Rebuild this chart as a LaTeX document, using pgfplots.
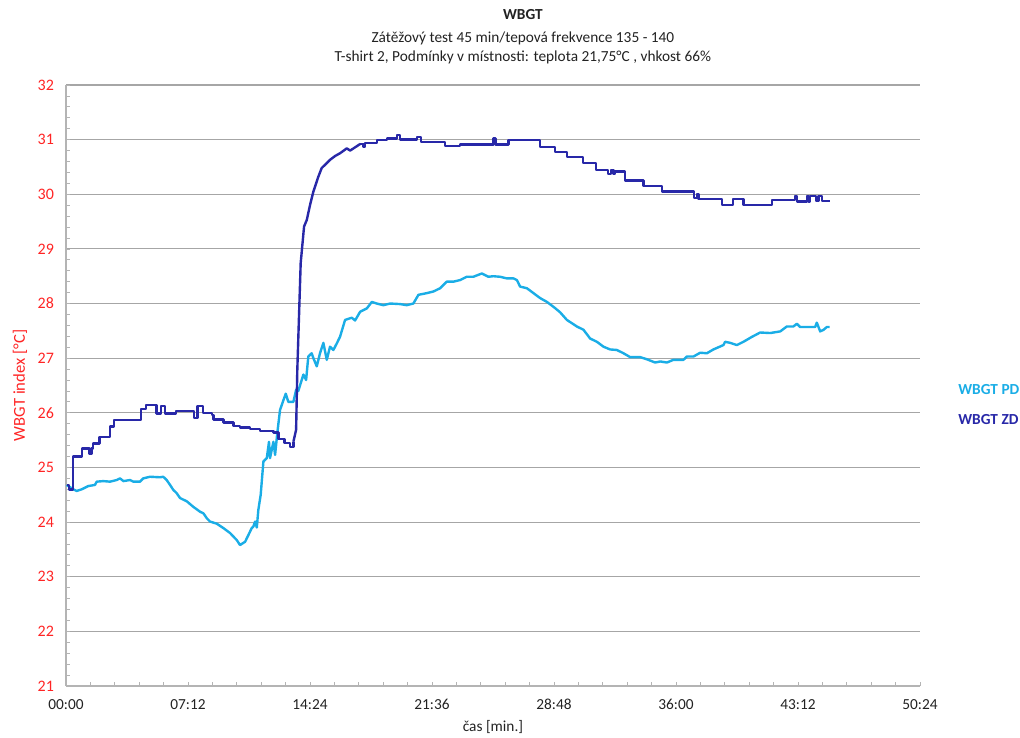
\documentclass[border=0pt]{standalone}
\usepackage{fontspec}
\setmainfont{Carlito}
\usepackage{pgfplots}
\pgfplotsset{compat=1.18}
\definecolor{pd}{HTML}{1AADE6}
\definecolor{zd}{HTML}{2828A8}
\definecolor{redt}{HTML}{FF2424}
\definecolor{gridc}{HTML}{A6A6A6}
\definecolor{axc}{HTML}{B4B4B4}
\definecolor{txt}{HTML}{222222}
\begin{document}
\fontsize{11.5}{13.8}\selectfont
\begin{tikzpicture}
\path[use as bounding box] (0,0) rectangle (765pt,553.5pt);
\begin{axis}[
  at={(49.5pt,39pt)}, anchor=south west,
  scale only axis, width=640.5pt, height=450.75pt,
  xmin=0, xmax=50.4, ymin=21, ymax=32,
  axis lines=left, axis line style={-, draw=axc, line width=0.8pt},
  tick align=inside,
  xtick={0,7.2,14.4,21.6,28.8,36,43.2,50.4},
  xticklabels={00:00,07:12,14:24,21:36,28:48,36:00,43:12,50:24},
  minor x tick num=4,
  ytick={21,22,23,24,25,26,27,28,29,30,31,32},
  minor y tick num=4,
  ymajorgrids, grid style={gridc, line width=0.8pt},
  major tick length=3pt, minor tick length=3pt,
  tick style={axc, line width=0.6pt},
  yticklabel style={text=redt, xshift=-5pt, font=\fontsize{12}{14}\selectfont},
  xticklabel style={text=txt, yshift=-6pt},
  /pgf/number format/assume math mode=true,
  clip=false,
]
\addplot[pd, line width=1.8pt, line join=round] coordinates {
(0.04,24.68)(0.43,24.6)(0.63,24.57)(0.93,24.6)(1.32,24.66)(1.71,24.68)(1.81,24.74)
(2.20,24.75)(2.60,24.74)(2.99,24.77)(3.19,24.8)(3.39,24.75)(3.78,24.77)(3.97,24.74)
(4.37,24.74)(4.56,24.8)(4.96,24.83)(5.55,24.82)(5.74,24.83)(5.94,24.77)(6.14,24.68)
(6.33,24.59)(6.53,24.53)(6.73,24.44)(7.13,24.38)(7.51,24.28)(7.91,24.19)(8.11,24.16)
(8.31,24.07)(8.50,24.01)(8.90,23.97)(9.29,23.89)(9.68,23.8)(10.08,23.67)(10.27,23.58)
(10.57,23.64)(10.76,23.76)(10.96,23.89)(11.06,23.92)(11.16,24.01)(11.26,23.9)(11.35,24.22)
(11.49,24.5)(11.65,25.11)(11.85,25.17)(11.98,25.47)(12.04,25.17)(12.24,25.47)(12.34,25.23)
(12.47,25.63)(12.63,26.05)(12.83,26.23)(12.97,26.35)(13.12,26.2)(13.42,26.2)(13.58,26.42)
(13.71,26.4)(14.01,26.7)(14.17,26.6)(14.30,27.03)(14.50,27.09)(14.60,27.0)(14.80,26.85)
(14.99,27.09)(15.19,27.28)(15.39,26.97)(15.58,27.21)(15.78,27.15)(15.98,27.27)(16.17,27.39)
(16.47,27.7)(16.66,27.72)(16.87,27.74)(17.06,27.69)(17.36,27.85)(17.75,27.91)(18.05,28.03)
(18.34,28.0)(18.73,27.97)(19.13,28.0)(19.72,27.99)(20.11,27.97)(20.50,28.0)(20.80,28.16)
(21.29,28.19)(21.68,28.22)(22.08,28.28)(22.47,28.4)(22.86,28.4)(23.26,28.43)(23.65,28.49)
(24.04,28.49)(24.54,28.55)(24.93,28.49)(25.22,28.5)(25.62,28.49)(26.02,28.46)(26.41,28.46)
(26.61,28.43)(26.80,28.31)(27.20,28.28)(27.59,28.19)(27.98,28.1)(28.38,28.03)(28.77,27.94)
(29.16,27.84)(29.56,27.7)(30.15,27.58)(30.54,27.52)(30.93,27.36)(31.33,27.3)(31.72,27.21)
(32.11,27.16)(32.51,27.15)(32.90,27.09)(33.29,27.02)(33.88,27.02)(34.28,26.98)(34.77,26.92)
(35.07,26.94)(35.46,26.92)(35.85,26.97)(36.44,26.97)(36.64,27.03)(37.03,27.03)(37.43,27.1)
(37.82,27.09)(38.21,27.16)(38.80,27.24)(38.90,27.3)(39.20,27.28)(39.59,27.24)(39.98,27.3)
(40.48,27.39)(40.97,27.47)(41.56,27.46)(42.15,27.49)(42.54,27.58)(42.93,27.58)(43.13,27.63)
(43.33,27.57)(43.92,27.57)(44.21,27.57)(44.31,27.65)(44.51,27.49)(44.71,27.52)(44.90,27.57)
(45.06,27.57)
};
\addplot[zd, line width=1.8pt, const plot, line join=round] coordinates {
(0.04,24.68)(0.19,24.6)(0.43,25.2)(0.93,25.35)(1.38,25.25)(1.50,25.35)(1.61,25.44)
(1.97,25.56)(2.60,25.75)(2.83,25.87)(4.41,26.07)(4.72,26.14)(5.35,25.99)(5.59,26.13)
(5.84,25.99)(6.50,26.03)(7.56,25.9)(7.75,26.12)(8.10,26.0)(8.60,25.96)(8.70,25.88)
(9.29,25.82)(9.88,25.76)(10.27,25.73)(10.86,25.7)(11.45,25.67)(12.24,25.64)(12.53,25.52)
(12.90,25.45)(13.22,25.37)(13.42,25.47)
};
\addplot[zd, line width=1.8pt, line join=round] coordinates {
(13.42,25.47)(13.58,25.69)(13.65,26.78)(13.85,28.74)(14.05,29.41)(14.21,29.53)(14.40,29.8)(14.60,30.05)
(14.89,30.32)(15.09,30.48)(15.29,30.54)(15.58,30.63)(15.88,30.7)(16.17,30.75)(16.57,30.84)
(16.77,30.8)(17.36,30.92)
};
\addplot[zd, line width=1.8pt, const plot, line join=round] coordinates {
(17.36,30.92)(17.55,30.87)(17.65,30.94)(18.34,30.99)(18.93,31.02)(19.52,31.08)
(19.72,31.0)(20.70,31.05)(20.94,30.96)(22.37,30.88)
(23.26,30.91)(25.22,31.02)(25.35,30.91)(26.11,30.99)
(27.98,30.87)(28.87,30.77)(29.56,30.68)
(30.50,30.57)(31.29,30.44)(32.00,30.37)(32.18,30.44)(32.30,30.37)
(32.41,30.42)(33.00,30.25)(34.08,30.15)(35.17,30.05)
(37.07,29.93)(37.25,30.0)(37.33,29.91)(38.71,29.8)
(39.36,29.91)(39.98,29.8)(41.66,29.9)
(43.03,29.97)(43.13,29.87)(43.72,29.97)(43.82,29.87)(43.92,29.97)
(44.27,29.88)(44.41,29.97)(44.61,29.88)(45.06,29.88)
};
\node[anchor=center, font=\bfseries, text=txt] at (rel axis cs:0.535,1.1165) {WBGT};
\node[anchor=center, text=txt] at (rel axis cs:0.535,1.0782) {Zátěžový test 45 min/tepová frekvence 135 - 140};
\node[anchor=center, text=txt] at (rel axis cs:0.535,1.0466) {T-shirt 2, Podmínky v místnosti: teplota 21,75°C , vhkost 66\%};
\node[anchor=center, text=txt] at (rel axis cs:0.5,-0.0682) {čas [min.]};
\node[anchor=center, rotate=90, text=redt, font=\fontsize{12.5}{15}\selectfont] at (rel axis cs:-0.0539,0.5) {WBGT index [°C]};
\node[anchor=west, font=\bfseries, text=pd, inner sep=0pt] at (rel axis cs:1.0445,0.4925) {WBGT PD};
\node[anchor=west, font=\bfseries, text=zd, inner sep=0pt] at (rel axis cs:1.0445,0.444) {WBGT ZD};
\end{axis}
\end{tikzpicture}
\end{document}
